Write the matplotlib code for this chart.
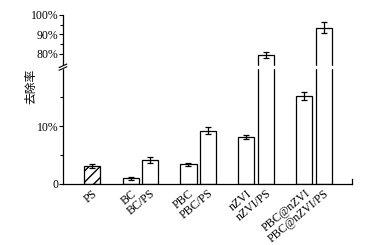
import matplotlib
matplotlib.use("Agg")
import matplotlib.pyplot as plt
import numpy as np

plt.rcParams['font.family'] = ['Liberation Serif', 'Noto Sans CJK SC']
plt.rcParams['font.size'] = 8.5

# data (removal rate, %)
labels = ["PS", "BC", "BC/PS", "PBC", "PBC/PS", "nZVI", "nZVI/PS",
          "PBC@nZVI", "PBC@nZVI/PS"]
xpos = [0, 2, 3, 5, 6, 8, 9, 11, 12]
rates = [3.1, 1.0, 4.1, 3.4, 9.2, 8.1, 79.5, 15.2, 93.5]
errs = [0.4, 0.25, 0.5, 0.3, 0.6, 0.4, 1.5, 0.7, 2.8]

yticks = [0, 10, 80, 90, 100]
yticklabels = ["0", "10%", "80%", "90%", "100%"]
yminor = [5, 15, 85, 95]

# broken axis: 0-20 % linear, then a jump, then 73-100 % compressed
LOW_TOP = 20.2
HIGH_BOT = 73.3
GAP = 0.001
K = 0.336
TOP0 = LOW_TOP + (HIGH_BOT - LOW_TOP) * GAP


def forward(v):
    v = np.asarray(v, dtype=float)
    mid = LOW_TOP + (v - LOW_TOP) * GAP
    hi = TOP0 + (v - HIGH_BOT) * K
    return np.where(v <= LOW_TOP, v, np.where(v < HIGH_BOT, mid, hi))


def inverse(y):
    y = np.asarray(y, dtype=float)
    mid = LOW_TOP + (y - LOW_TOP) / GAP
    hi = HIGH_BOT + (y - TOP0) / K
    return np.where(y <= LOW_TOP, y, np.where(y < TOP0, mid, hi))


fig = plt.figure(figsize=(3.66, 2.45), dpi=100)
ax = fig.add_axes([0.172, 0.249, 0.79, 0.69])
ax.set_yscale('function', functions=(forward, inverse))

for i, (x, r, e) in enumerate(zip(xpos, rates, errs)):
    hatch = '///' if i == 0 else None
    ax.bar(x, r, width=0.83, color='white', edgecolor='black',
           linewidth=0.9, hatch=hatch, zorder=2)
    ax.errorbar(x, r, yerr=e, fmt='none', ecolor='black', elinewidth=0.9,
                capsize=2, capthick=0.9, zorder=3)

ax.set_xlim(-1.5, 13.47)
ax.set_ylim(0, 100)
ax.set_yticks(yticks)
ax.set_yticklabels(yticklabels)
ax.set_yticks(yminor, minor=True)
ax.tick_params(axis='y', which='major', length=3, width=0.8, direction='out', pad=0.5)
ax.tick_params(axis='y', which='minor', length=2, width=0.8, direction='out')
ax.set_xticks(xpos)
ax.set_xticklabels(labels, rotation=40, ha='right', va='top',
                   rotation_mode='anchor')
ax.tick_params(axis='x', length=0, pad=2.5)

for s in ['top', 'right']:
    ax.spines[s].set_visible(False)
for s in ['left', 'bottom']:
    ax.spines[s].set_linewidth(0.9)

ax.set_ylabel("去除率", family=['Noto Sans CJK SC'], fontsize=8.5)
ax.yaxis.set_label_coords(-0.088, 0.575)

# thin white band to cut the bars and the spine at the break
ax.axhspan(LOW_TOP - 0.1, HIGH_BOT + 0.5, xmin=-0.005, xmax=1, color='white',
           zorder=4, clip_on=False)
yb_ax = ax.transAxes.inverted().transform(
    ax.transData.transform((0, forward(LOW_TOP + 1)))
)[1]
# break marks on the y axis
for off in (-0.008, 0.008):
    ax.plot([-0.013, 0.013], [yb_ax + off - 0.01, yb_ax + off + 0.01],
            transform=ax.transAxes, color='black', lw=0.8,
            clip_on=False, zorder=5)
# small end tick on the x axis
ax.plot([1, 1], [0, 0.03], transform=ax.transAxes, color='black', lw=0.9,
        clip_on=False)

fig.savefig("out.png", dpi=100)
